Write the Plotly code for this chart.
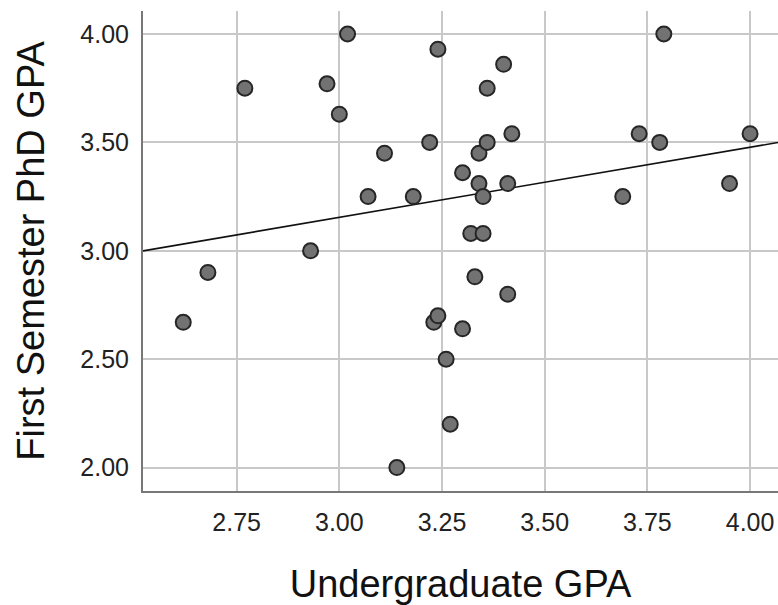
import plotly.graph_objects as go
import numpy as np

# Data
undergrad_gpa = [2.62, 2.68, 2.77, 2.93, 2.97, 3.00, 3.02, 3.07, 3.11, 3.14,
                 3.18, 3.22, 3.23, 3.24, 3.24, 3.26, 3.27, 3.30, 3.30, 3.32,
                 3.33, 3.34, 3.34, 3.35, 3.35, 3.36, 3.36, 3.40, 3.41, 3.41,
                 3.42, 3.69, 3.73, 3.79, 3.78, 4.00, 3.95]
phd_gpa = [2.67, 2.90, 3.75, 3.00, 3.77, 3.63, 4.00, 3.25, 3.45, 2.00,
           3.25, 3.50, 2.67, 3.93, 2.70, 2.50, 2.20, 3.36, 2.64, 3.08,
           2.88, 3.45, 3.31, 3.25, 3.08, 3.75, 3.50, 3.86, 3.31, 2.80,
           3.54, 3.25, 3.54, 4.00, 3.50, 3.54, 3.31]

# Fit line parameters
fit_intercept = 2.184
fit_slope = 0.3234

x_ticks = [2.75, 3.00, 3.25, 3.50, 3.75, 4.00]
x_tick_labels = ["2.75", "3.00", "3.25", "3.50", "3.75", "4.00"]
y_ticks = [2.00, 2.50, 3.00, 3.50, 4.00]
y_tick_labels = ["2.00", "2.50", "3.00", "3.50", "4.00"]

x_range = [2.522, 4.068]
y_range = [1.892, 4.106]

fit_x = np.array(x_range)
fit_y = fit_intercept + fit_slope * fit_x

fig = go.Figure()
fig.add_trace(go.Scatter(
    x=fit_x, y=fit_y, mode="lines",
    line=dict(color="#111111", width=1.6),
    hoverinfo="skip", showlegend=False,
))
fig.add_trace(go.Scatter(
    x=undergrad_gpa, y=phd_gpa, mode="markers",
    marker=dict(size=15, color="#727272", line=dict(color="#262626", width=2)),
    showlegend=False,
))

font_family = "Liberation Sans, Arial, sans-serif"
fig.update_layout(
    width=778, height=605,
    margin=dict(l=143, r=0, t=11, b=114),
    paper_bgcolor="white", plot_bgcolor="white",
    font=dict(family=font_family, color="#222222"),
    xaxis=dict(
        range=x_range, tickvals=x_ticks, ticktext=x_tick_labels,
        showgrid=True, gridcolor="#c8c8c8", gridwidth=2,
        showline=True, linecolor="#777777", linewidth=2,
        zeroline=False, ticks="outside", ticklen=8, tickcolor="rgba(0,0,0,0)",
        tickfont=dict(size=25, color="#222222"),
        automargin=False,
        title=dict(text="Undergraduate GPA", font=dict(size=38, color="#111111"), standoff=46),
    ),
    yaxis=dict(
        range=y_range, tickvals=y_ticks, ticktext=y_tick_labels,
        showgrid=True, gridcolor="#c8c8c8", gridwidth=2,
        showline=True, linecolor="#777777", linewidth=2,
        zeroline=False, ticks="outside", ticklen=7, tickcolor="rgba(0,0,0,0)",
        tickfont=dict(size=25, color="#222222"),
        automargin=False,
        title=dict(text="First Semester PhD GPA", font=dict(size=38, color="#111111"), standoff=24),
    ),
)

# remove the default page margin so the figure fills the window exactly
fig.write_html(
    "out.html",
    config={"displayModeBar": False},
    post_script="document.body.style.margin='0';document.body.style.overflow='hidden';",
)
